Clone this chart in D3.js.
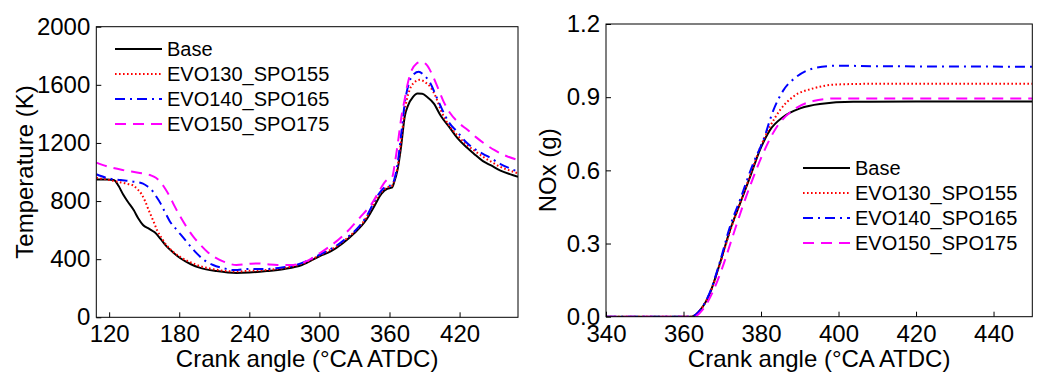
<!DOCTYPE html>
<html>
<head>
<meta charset="utf-8">
<script src="https://cdn.jsdelivr.net/npm/d3@7"></script>
<style>
  body { margin: 0; background: #fff; }
  svg { font-family: "Liberation Sans", Arial, sans-serif; }
  .axis path, .axis line { stroke: #000; stroke-width: 1; }
  .axis text { font-size: 24px; fill: #000; }
</style>
</head>
<body>
<svg width="1038" height="374"></svg>
<script>
// series names + styles
var seriesNames = ["Base", "EVO130_SPO155", "EVO140_SPO165", "EVO150_SPO175"];
var seriesColors = ["#000000", "#ff0000", "#0000ff", "#ff00ff"];
var seriesDash = [null, "1.6,2.4", "10,5,2,5", "11,7"];

// Temperature (K) vs crank angle
var tempBase = [[109,948],[118,948],[124,945],[128,905],[132,845],[136,795],[141,738],[145,680],[149,635],[154,610],[159,585],[164,540],[169,490],[175,445],[181,406],[190,365],[198,340],[212,318],[229,305],[240,308],[255,318],[270,333],[285,360],[300,420],[310,455],[320,510],[330,580],[340,670],[347,765],[353,850],[358,885],[362,892],[364,930],[367,1020],[370,1180],[373,1380],[376,1460],[380,1515],[384,1540],[388,1538],[392,1518],[398,1470],[404,1385],[412,1300],[418,1235],[426,1170],[432,1128],[440,1075],[447,1045],[455,1010],[463,985],[470,967]];
var tempEvo130 = [[109,960],[120,945],[130,928],[136,918],[141,905],[145,875],[148,845],[151,795],[154,735],[158,660],[161,600],[165,545],[169,497],[175,450],[181,415],[188,385],[195,360],[205,338],[212,327],[229,315],[240,320],[255,325],[270,340],[285,368],[300,425],[320,520],[340,685],[350,830],[358,895],[362,905],[364,940],[367,1040],[370,1220],[373,1420],[377,1560],[381,1615],[386,1635],[390,1620],[395,1585],[400,1510],[404,1425],[411,1320],[418,1254],[425,1195],[432,1151],[440,1105],[447,1071],[455,1035],[463,1010],[470,991]];
var tempEvo140 = [[109,985],[120,955],[130,945],[140,935],[149,920],[153,900],[156,880],[160,835],[164,784],[168,720],[172,660],[178,600],[184,543],[190,485],[195,440],[202,390],[209,360],[218,338],[227,325],[240,333],[252,332],[265,340],[280,360],[300,430],[320,525],[340,690],[350,840],[357,900],[362,910],[364,945],[367,1060],[370,1260],[373,1470],[377,1620],[381,1675],[385,1690],[389,1670],[395,1610],[400,1520],[404,1449],[411,1340],[418,1277],[425,1210],[432,1163],[440,1125],[447,1094],[455,1055],[463,1025],[470,1002]];
var tempEvo150 = [[109,1065],[120,1035],[132,1013],[145,995],[155,979],[160,960],[164,930],[168,885],[172,830],[176,765],[181,692],[186,625],[192,555],[198,500],[204,451],[211,410],[218,383],[229,360],[240,368],[247,371],[255,365],[264,360],[275,360],[290,390],[300,440],[320,560],[335,690],[345,784],[352,880],[357,940],[360,955],[362,960],[365,1082],[368,1250],[370,1370],[373,1500],[375,1587],[379,1701],[383,1745],[387,1758],[392,1736],[396,1680],[401,1587],[406,1490],[412,1404],[419,1340],[427,1289],[434,1240],[441,1197],[450,1150],[460,1110],[470,1082]];

// NOx (g) vs crank angle
var noxBase = [[340,0],[362,0],[364.3,0.027],[366.8,0.096],[369.4,0.219],[372,0.355],[374.6,0.465],[377.2,0.574],[379.7,0.683],[382.3,0.765],[385.8,0.820],[390.1,0.854],[395.2,0.872],[403.8,0.881],[420,0.882],[450,0.882]];
var noxEvo130 = [[340,0],[362,0],[364.3,0.027],[366.8,0.096],[369.4,0.215],[372,0.35],[374.6,0.465],[377.2,0.58],[379.7,0.69],[382.3,0.779],[384.9,0.847],[388.3,0.902],[393.5,0.936],[399.5,0.952],[410,0.955],[450,0.955]];
var noxEvo140 = [[340,0],[362,0],[364.3,0.027],[366.8,0.1],[369.4,0.225],[372,0.37],[374.6,0.48],[378,0.629],[380.6,0.724],[383.2,0.847],[385.8,0.929],[389.2,0.984],[393.5,1.018],[399.5,1.029],[410,1.027],[450,1.025]];
var noxEvo150 = [[340,0],[362.5,0],[365,0.03],[367.5,0.1],[370,0.2],[372.5,0.32],[375,0.44],[377.5,0.55],[380,0.65],[384.1,0.779],[388.3,0.847],[393.5,0.884],[399.5,0.895],[450,0.895]];

var tempTicksX = [120, 180, 240, 300, 360, 420];
var tempTicksY = [0, 400, 800, 1200, 1600, 2000];
var noxTicksX = [340, 360, 380, 400, 420, 440];
var noxTicksY = [0, 0.3, 0.6, 0.9, 1.2];

var svg = d3.select("svg");

// drawPanel(): one framed plot with four series and a legend
function drawPanel(opt) {
  var x = d3.scaleLinear().domain(opt.xDomain).range([opt.left, opt.right]);
  var y = d3.scaleLinear().domain(opt.yDomain).range([opt.bottom, opt.top]);

  var g = svg.append("g");

  svg.append("defs").append("clipPath")
    .attr("id", opt.id)
    .append("rect")
    .attr("x", opt.left).attr("y", opt.top)
    .attr("width", opt.right - opt.left)
    .attr("height", opt.bottom - opt.top);

  var line = d3.line()
    .x(function(d) { return x(d[0]); })
    .y(function(d) { return y(d[1]); })
    .curve(d3.curveMonotoneX);

  // lines
  opt.series.forEach(function(s, i) {
    g.append("path")
      .datum(s)
      .attr("clip-path", "url(#" + opt.id + ")")
      .attr("fill", "none")
      .attr("stroke", seriesColors[i])
      .attr("stroke-width", 2)
      .attr("stroke-dasharray", seriesDash[i])
      .attr("d", line);
  });

  // frame
  g.append("rect")
    .attr("x", opt.left).attr("y", opt.top)
    .attr("width", opt.right - opt.left)
    .attr("height", opt.bottom - opt.top)
    .attr("fill", "none").attr("stroke", "#000").attr("stroke-width", 1);

  // axes, ticks pointing inward
  g.append("g")
    .attr("class", "axis")
    .attr("transform", "translate(0," + opt.bottom + ")")
    .call(d3.axisBottom(x).tickValues(opt.ticksX).tickSizeInner(-5).tickSizeOuter(0).tickPadding(8).tickFormat(opt.fmtX))
    .call(function(a) { a.select(".domain").remove(); });

  g.append("g")
    .attr("class", "axis")
    .attr("transform", "translate(" + opt.left + ",0)")
    .call(d3.axisLeft(y).tickValues(opt.ticksY).tickSizeInner(-5).tickSizeOuter(0).tickPadding(6).tickFormat(opt.fmtY))
    .call(function(a) { a.select(".domain").remove(); });

  // axis titles
  g.append("text")
    .attr("x", (opt.left + opt.right) / 2)
    .attr("y", 367)
    .attr("text-anchor", "middle")
    .attr("font-size", 24)
    .text("Crank angle (\u00B0CA ATDC)");

  g.append("text")
    .attr("text-anchor", "middle")
    .attr("font-size", 24)
    .attr("transform", "translate(" + opt.yTitleX + "," + ((opt.top + opt.bottom) / 2) + ")rotate(-90)")
    .text(opt.yTitle);

  // legend
  var legend = g.append("g")
    .selectAll("g")
    .data(seriesNames)
    .enter().append("g")
    .attr("transform", function(d, i) {
      return "translate(" + opt.legX + "," + (opt.legY + i * 25) + ")";
    });

  legend.append("line")
    .attr("x1", 0).attr("x2", 47)
    .attr("stroke", function(d, i) { return seriesColors[i]; })
    .attr("stroke-width", 2)
    .attr("stroke-dasharray", function(d, i) { return seriesDash[i]; });

  legend.append("text")
    .attr("x", 52)
    .attr("dy", "0.35em")
    .attr("font-size", 20)
    .text(function(d) { return d; });
}

drawPanel({
  id: "clipT", left: 96.3, right: 518, top: 26.7, bottom: 317.3,
  xDomain: [109, 470], yDomain: [0, 2000],
  ticksX: tempTicksX, ticksY: tempTicksY,
  fmtX: d3.format("d"), fmtY: d3.format("d"),
  series: [tempBase, tempEvo130, tempEvo140, tempEvo150],
  yTitle: "Temperature (K)", yTitleX: 33,
  legX: 115, legY: 49
});

drawPanel({
  id: "clipN", left: 606, right: 1032.3, top: 24, bottom: 316.7,
  xDomain: [340, 450], yDomain: [0, 1.2],
  ticksX: noxTicksX, ticksY: noxTicksY,
  fmtX: d3.format("d"), fmtY: d3.format(".1f"),
  series: [noxBase, noxEvo130, noxEvo140, noxEvo150],
  yTitle: "NOx (g)", yTitleX: 556,
  legX: 803, legY: 168
});
</script>
</body>
</html>
